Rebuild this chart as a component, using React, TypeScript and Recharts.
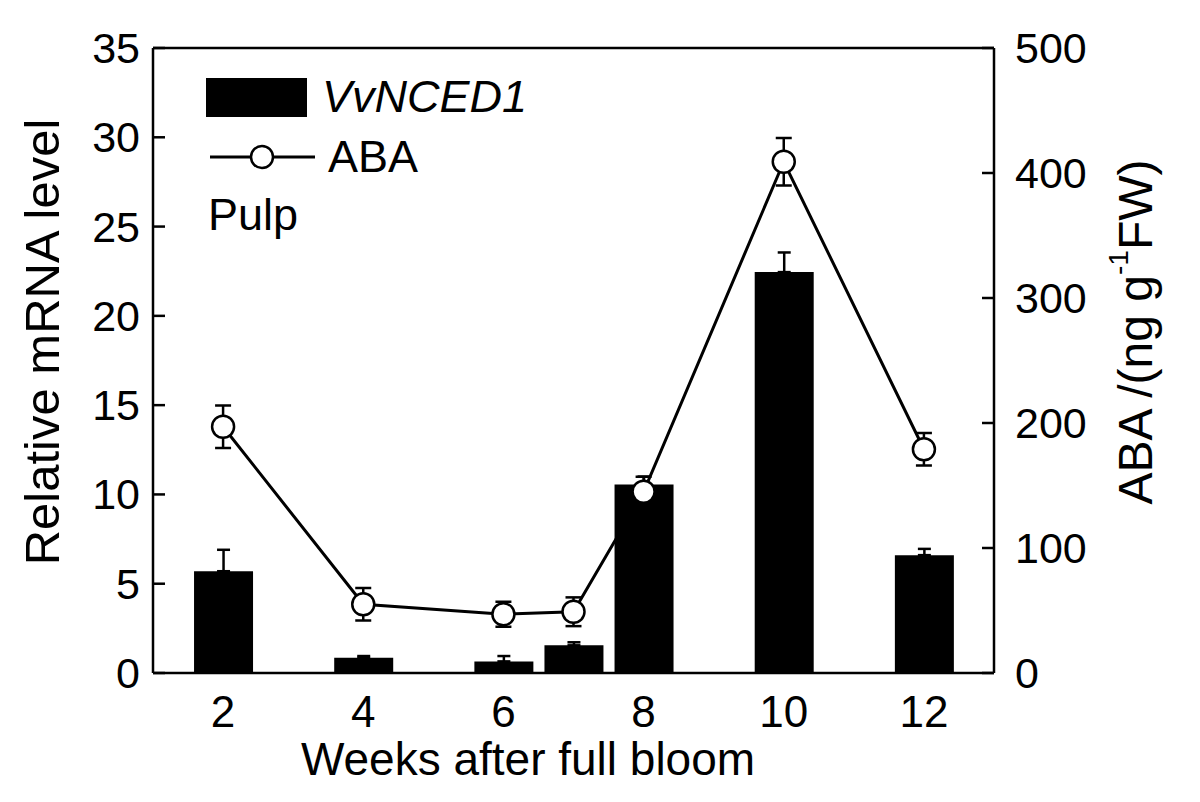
import {
  ComposedChart,
  Bar,
  Line,
  XAxis,
  YAxis,
  ErrorBar,
  ReferenceLine,
  Label,
} from "recharts";

const weeks = [2, 4, 6, 7, 8, 10, 12];
const nced1 = [5.7, 0.85, 0.65, 1.55, 10.55, 22.45, 6.6];
const nced1Err = [1.2, 0.1, 0.3, 0.17, 0.45, 1.1, 0.35];
const aba = [197, 55, 47, 49, 145, 409, 179];
const abaErr = [17, 13, 10, 11.5, 12, 19, 13];

const weekTicks = [2, 4, 6, 8, 10, 12];
const mrnaTicks = [0, 5, 10, 15, 20, 25, 30, 35];
const abaTicks = [0, 100, 200, 300, 400, 500];

const data = weeks.map((w, i) => ({
  week: w,
  nced1: nced1[i],
  nced1Err: [0, nced1Err[i]],
  aba: aba[i],
  abaErr: abaErr[i],
}));

const FONT = '"Liberation Sans", Arial, Helvetica, sans-serif';
const INK = "#000";

function LeftTick({ x, y, payload }: any) {
  return (
    <g>
      <line x1={x} x2={x + 12} y1={y} y2={y} stroke={INK} strokeWidth={2.5} />
      <text x={x - 13} y={y} textAnchor="end" dominantBaseline="central"
        fontSize={43} fontFamily={FONT} fill={INK}>
        {payload.value}
      </text>
    </g>
  );
}

function RightTick({ x, y, payload }: any) {
  return (
    <g>
      <line x1={x - 12} x2={x} y1={y} y2={y} stroke={INK} strokeWidth={2.5} />
      <text x={x + 21} y={y} textAnchor="start" dominantBaseline="central"
        fontSize={43} fontFamily={FONT} fill={INK}>
        {payload.value}
      </text>
    </g>
  );
}

function BottomTick({ x, y, payload }: any) {
  return (
    <text x={x} y={y + 38} textAnchor="middle" dominantBaseline="central"
      fontSize={44} fontFamily={FONT} fill={INK}>
      {payload.value}
    </text>
  );
}

const leftTitle = () => (
  <text transform="translate(42,342) rotate(-90)" textAnchor="middle"
    dominantBaseline="central" fontSize={49} fontFamily={FONT} fill={INK}>
    Relative mRNA level
  </text>
);

const rightTitle = () => (
  <text transform="translate(1135,332) rotate(-90)" textAnchor="middle"
    dominantBaseline="central" fontSize={48} fontFamily={FONT} fill={INK}>
    ABA /(ng g
    <tspan dy={-17} fontSize={28}>-1</tspan>
    <tspan dy={17}>FW)</tspan>
  </text>
);

const bottomTitle = () => (
  <text x={528} y={759} textAnchor="middle" dominantBaseline="central"
    fontSize={46} fontFamily={FONT} fill={INK}>
    Weeks after full bloom
  </text>
);

const axisLine = { stroke: INK, strokeWidth: 2.5 };

export default function App() {
  return (
    <div style={{ position: "absolute", left: 0, top: 0, width: 1200, height: 802, background: "#fff" }}>
      <ComposedChart width={1200} height={802} data={data}
        margin={{ top: 48, right: 0, bottom: 0, left: 0 }}>
        <XAxis dataKey="week" type="number" domain={[1, 13]} ticks={weekTicks}
          interval={0} height={129} axisLine={axisLine} tickLine={false}
          tickSize={0} tickMargin={0} tick={<BottomTick />}>
          <Label content={bottomTitle} />
        </XAxis>
        <YAxis yAxisId="left" orientation="left" domain={[0, 35]} ticks={mrnaTicks}
          interval={0} width={153} axisLine={axisLine} tickLine={false}
          tickSize={0} tickMargin={0} tick={<LeftTick />}>
          <Label content={leftTitle} />
        </YAxis>
        <YAxis yAxisId="right" orientation="right" domain={[0, 500]} ticks={abaTicks}
          interval={0} width={206} axisLine={axisLine} tickLine={false}
          tickSize={0} tickMargin={0} tick={<RightTick />}>
          <Label content={rightTitle} />
        </YAxis>
        <ReferenceLine yAxisId="left" y={35} stroke={INK} strokeWidth={2.5} />
        <Bar yAxisId="left" dataKey="nced1" fill={INK} barSize={59} isAnimationActive={false}>
          <ErrorBar dataKey="nced1Err" direction="y" width={6.5} stroke={INK} strokeWidth={2.5} />
        </Bar>
        <Line yAxisId="right" dataKey="aba" type="linear" stroke={INK} strokeWidth={3}
          dot={{ r: 11, fill: "#fff", stroke: INK, strokeWidth: 2.5 }}
          activeDot={false} isAnimationActive={false}>
          <ErrorBar dataKey="abaErr" direction="y" width={8} stroke={INK} strokeWidth={2.5} />
        </Line>
      </ComposedChart>

      {/* legend */}
      <div style={{ position: "absolute", left: 206, top: 78, width: 101, height: 39, background: INK }} />
      <div style={{ position: "absolute", left: 322, top: 72, lineHeight: "50px", fontSize: 45, fontStyle: "italic", fontFamily: FONT }}>
        VvNCED1
      </div>
      <svg style={{ position: "absolute", left: 205, top: 140 }} width={115} height={34}>
        <line x1={5} x2={110} y1={17} y2={17} stroke={INK} strokeWidth={3} />
        <circle cx={57} cy={17} r={11} fill="#fff" stroke={INK} strokeWidth={2.5} />
      </svg>
      <div style={{ position: "absolute", left: 328, top: 132, lineHeight: "50px", fontSize: 45, fontFamily: FONT }}>
        ABA
      </div>
      <div style={{ position: "absolute", left: 208, top: 190, lineHeight: "50px", fontSize: 45, fontFamily: FONT }}>
        Pulp
      </div>
    </div>
  );
}
